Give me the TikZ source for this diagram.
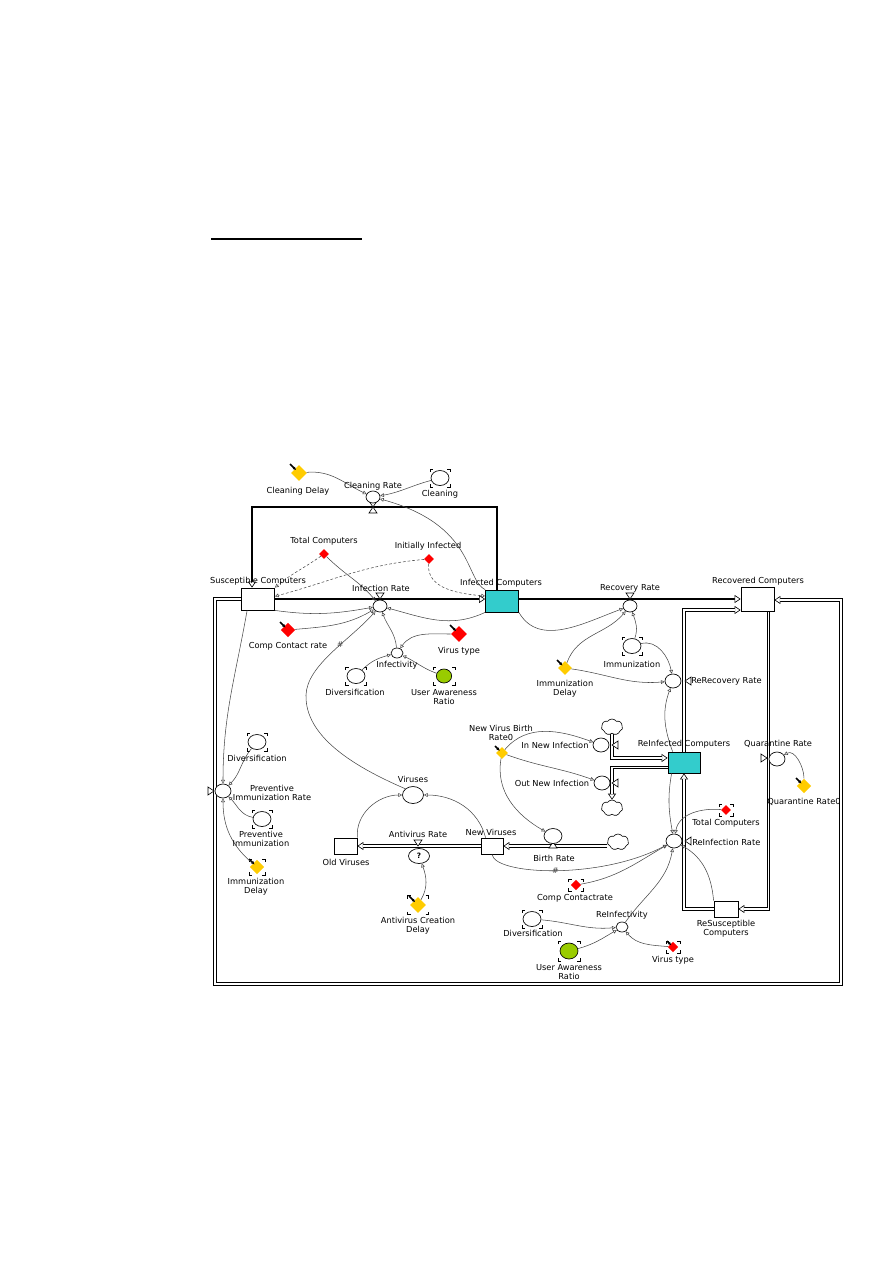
\documentclass[tikz,border=0pt]{standalone}
\usepackage{fontspec}
\setmainfont{DejaVu Sans}
\usetikzlibrary{arrows.meta,shapes.geometric,shapes.symbols,backgrounds}
\definecolor{stockteal}{RGB}{51,204,204}
\definecolor{consty}{RGB}{255,204,0}
\definecolor{constg}{RGB}{153,204,0}
\definecolor{constr}{RGB}{255,0,0}
\definecolor{conngray}{RGB}{70,70,70}
\newcommand\brk[4]{\draw[brkline,shift={(#1,#2)}] (-#3,-#4+3)--(-#3,-#4)--(-#3+3,-#4) (#3-3,-#4)--(#3,-#4)--(#3,-#4+3) (-#3,#4-3)--(-#3,#4)--(-#3+3,#4) (#3-3,#4)--(#3,#4)--(#3,#4-3);}
\newcommand\pinm[3]{\draw[pinline,shift={(#1,#2)}] (-#3-1,-#3-1) -- (-0.35*#3,-0.35*#3);}
\newcommand\vdn[2]{\draw[valve,shift={(#1,#2)}] (-4,-6)--(4,-6)--(0,0)--cycle;}
\newcommand\vup[2]{\draw[valve,shift={(#1,#2)}] (-4,6)--(4,6)--(0,0)--cycle;}
\newcommand\vlf[2]{\draw[valve,shift={(#1,#2)}] (6,-4)--(6,4)--(0,0)--cycle;}
\newcommand\vrt[2]{\draw[valve,shift={(#1,#2)}] (-6,-4)--(-6,4)--(0,0)--cycle;}
\begin{document}
\begin{tikzpicture}[x=0.75pt,y=-0.75pt,
  lbl/.style={inner sep=0pt, font=\fontsize{6.2}{6.75}\selectfont, align=center},
  stock/.style={draw=black, line width=0.6pt, fill=white, inner sep=0pt},
  aux/.style={ellipse, draw=black, line width=0.5pt, fill=white, inner sep=0pt},
  a5/.style={aux, minimum width=9pt, minimum height=7.5pt},
  a6/.style={aux, minimum width=10.5pt, minimum height=9pt},
  a7/.style={aux, minimum width=12pt, minimum height=10.5pt},
  a8/.style={aux, minimum width=13.5pt, minimum height=11.25pt},
  a10/.style={aux, minimum width=15.75pt, minimum height=12.75pt},
  cst/.style={diamond, draw=none, inner sep=0pt, aspect=1},
  cld/.style={cloud, cloud puffs=7, cloud puff arc=110, aspect=1.3, draw=black, line width=0.45pt, fill=white, inner sep=0pt, minimum width=16pt, minimum height=12pt},
  brkline/.style={draw=black, line width=0.5pt},
  pinline/.style={draw=black, line width=1.1pt, -{Latex[length=2.5pt,width=2.5pt]}},
  valve/.style={draw=black, line width=0.45pt, fill=white},
  pipe/.style={draw=black, line width=1.2pt},
  dpipe/.style={draw=black, line width=2.3pt, postaction={draw=white, line width=0.8pt, -, shorten >=4.5pt}},
  fa/.style={-{Triangle[length=4.5pt,width=6pt,fill=white,line width=0.45pt]}},
  conn/.style={draw=conngray, line width=0.4pt, -{Triangle[open,length=2.8pt,width=2.8pt,line width=0.4pt]}},
  dconn/.style={conn, dash pattern=on 2pt off 1.5pt},
  dly/.style={inner sep=0pt, font=\fontsize{6}{6}\selectfont, text=conngray}
]
\useasboundingbox (0,0) rectangle (893,1263);
% underline
\coordinate (ul1) at (211,239);
\coordinate (ul2) at (362,239);
\draw[line width=0.8pt] (ul1) -- (ul2);

% stocks
\node[stock, minimum width=24.75pt, minimum height=16.5pt] (sus) at (258,599) {};
\node[stock, fill=stockteal, minimum width=24.75pt, minimum height=16.5pt] (inf) at (502,601) {};
\node[stock, minimum width=24.75pt, minimum height=18pt] (rec) at (757.5,599) {};
\node[stock, fill=stockteal, minimum width=24pt, minimum height=15.75pt] (reinf) at (684,762.5) {};
\node[stock, minimum width=18pt, minimum height=12pt] (resus) at (726,909) {};
\node[stock, minimum width=16.5pt, minimum height=12pt] (newv) at (492,846) {};
\node[stock, minimum width=17.25pt, minimum height=12pt] (oldv) at (345.5,846) {};

% clouds
\node[cld] (cloud1) at (612,727) {};
\node[cld] (cloud2) at (612,808) {};
\node[cld] (cloud3) at (618,842) {};

% rates
\node[a6] (crate) at (373,497) {};
\node[a6] (irate) at (380,606) {};
\node[a6] (rrate) at (630,606) {};
\node[a7] (rerec) at (673,681) {};
\node[a7] (reinfr) at (674,841) {};
\node[a7] (qrate) at (777,759) {};
\node[a7] (previr) at (223,791) {};
\node[a7] (innew) at (601,745) {};
\node[a7] (outnew) at (602,783) {};
\node[a8] (brate) at (553,836) {};
\node[aux, minimum width=15.75pt, minimum height=11.25pt, font=\fontsize{5.5}{6}\selectfont\bfseries] (avq) at (419,856) {?};

% auxiliaries
\node[a10] (viruses) at (413,795) {};
\node[a8] (cleaning) at (440,478) {};
\node[a5] (infect) at (397,653) {};
\node[a5] (reinfect) at (622,927) {};
\node[a8] (div1) at (356,676) {};
\node[a8] (div2) at (257,742) {};
\node[a8] (div3) at (532,919) {};
\node[a8] (previmm) at (262,819) {};
\node[a8] (immun) at (632,646) {};
\node[aux, fill=constg, minimum width=11.5pt, minimum height=10.5pt] (uar1) at (444,676) {};
\node[aux, fill=constg, minimum width=13.5pt, minimum height=12pt] (uar2) at (569,951) {};

% constants
\node[cst, fill=consty, minimum size=12pt] (cdelay) at (299,473) {};
\node[cst, fill=constr, minimum size=7.5pt] (totc) at (324,554) {};
\node[cst, fill=constr, minimum size=7.5pt] (initinf) at (429,559) {};
\node[cst, fill=constr, minimum size=11pt] (ccr1) at (288,630) {};
\node[cst, fill=constr, minimum size=12pt] (vtype1) at (459,634) {};
\node[cst, fill=consty, minimum size=11pt] (imdel1) at (257,867) {};
\node[cst, fill=consty, minimum size=10.5pt] (imdel2) at (565,668) {};
\node[cst, fill=consty, minimum size=9pt] (nvbr) at (502,753) {};
\node[cst, fill=consty, minimum size=11pt] (qr0) at (804,786) {};
\node[cst, fill=consty, minimum size=12pt] (avdelay) at (418,905) {};
\node[cst, fill=constr, minimum size=7.5pt] (totc2) at (726,810) {};
\node[cst, fill=constr, minimum size=8pt] (ccr2) at (576,885) {};
\node[cst, fill=constr, minimum size=8pt] (vtype2) at (673,947) {};

% brackets
\brk{440}{478}{10}{9}
\brk{356}{676}{10.5}{9}
\brk{444}{676}{11}{9}
\brk{257}{742}{10}{9}
\brk{262}{819}{10}{9}
\brk{632}{646}{10}{9}
\brk{532}{919}{10}{9}
\brk{569}{951}{11}{10}
\brk{257}{867}{8}{8}
\brk{418}{905}{10.5}{9.5}
\brk{726}{810}{7}{6}
\brk{576}{885}{7.5}{6}
\brk{673}{947}{7}{6}

% pins
\pinm{299}{473}{8}
\pinm{288}{630}{7}
\pinm{459}{634}{8}
\pinm{257}{867}{7}
\pinm{565}{668}{7}
\pinm{502}{753}{6}
\pinm{804}{786}{7}
\pinm{418}{905}{8}
\pinm{673}{947}{5}

% flows
\coordinate (cl1) at (252,507);
\coordinate (f1) at (215,599);
\coordinate (f2) at (215,984);
\coordinate (f3) at (841,984);
\coordinate (f4) at (841,600);
\begin{pgfonlayer}{background}
\draw[pipe,fa] (sus.east) -- (sus.east -| inf.west);
\draw[pipe,fa] (inf.east |- sus.east) -- (sus.east -| rec.west);
\draw[pipe,fa] ([xshift=-3.75pt]inf.north) |- (cl1) -- ([xshift=-4.5pt]sus.north);
\draw[dpipe,fa] (sus.west) -- (f1) -- (f2) -- (f3) -- (f4) -- (rec.east |- f4);
\draw[dpipe,fa] (reinf.north) |- ([yshift=-8.25pt]rec.west);
\draw[dpipe,fa] ([xshift=7.9pt]rec.south) |- (resus.east);
\draw[dpipe,fa] (resus.west) -| (reinf.south);
\draw[dpipe,fa] (cloud1.south) |- ([yshift=3.4pt]reinf.west);
\draw[dpipe,fa] ([yshift=-3.4pt]reinf.west) -| (cloud2.north);
\draw[dpipe,fa] (newv.east -| cloud3.west) -- (newv.east);
\draw[dpipe,fa] (newv.west) -- (oldv.east);
% valves
\vdn{373}{507} \vup{373}{507}
\vdn{380}{599}
\vdn{630}{599}
\vlf{685}{681}
\vlf{685}{841}
\vrt{767}{758}
\vrt{214}{791}
\vlf{612}{745}
\vlf{612}{783}
\vup{553}{842}
\vdn{418}{846}
\end{pgfonlayer}

% connectors
\draw[conn] (cdelay) to[out=5,in=155] (crate);
\draw[conn] (cleaning) to[out=195,in=10] (crate);
\draw[conn] (inf.north west) .. controls (465,580) and (475,525) .. (crate);
\draw[dconn] (totc) to[out=215,in=40] (sus.north east);
\draw[conn] (totc) to[out=-45,in=130] (irate);
\draw[dconn] (initinf) to[out=185,in=15] ([yshift=2pt]sus.east);
\draw[dconn] (initinf) to[out=-95,in=175] ([yshift=3.75pt]inf.west);
\draw[conn] (sus.south east) to[out=-8,in=190] (irate);
\draw[conn] (ccr1) to[out=5,in=210] (irate);
\draw[conn] (inf.south west) to[out=205,in=-15] (irate);
\draw[conn] (viruses.north west) .. controls (350,765) and (305,735) .. (306,695) .. controls (307,665) and (350,640) .. (irate) node[dly,pos=0.6]{\#};
\draw[conn] (infect) to[out=95,in=-70] (irate);
\draw[conn] (vtype1) to[out=180,in=55] (infect);
\draw[conn] (div1) to[out=45,in=195] (infect);
\draw[conn] (uar1) to[out=160,in=-25] (infect);
\draw[conn] (inf.south east) to[out=-60,in=200] (rrate);
\draw[conn] (imdel2) to[out=70,in=230] (rrate);
\draw[conn] (immun) to[out=70,in=-70] (rrate);
\draw[conn] (immun) to[out=15,in=100] (rerec);
\draw[conn] (imdel2) to[out=-8,in=185] (rerec);
\draw[conn] ([xshift=3.75pt]reinf.north west) to[out=110,in=-110] (rerec);
\draw[conn] (qr0) to[out=90,in=30] (qrate);
\draw[conn] (nvbr) to[out=50,in=160] (innew);
\draw[conn] (nvbr) to[out=-20,in=160] (outnew);
\draw[conn] (nvbr) to[out=-100,in=150] (brate);
\draw[conn] (oldv.north east) to[out=95,in=180] (viruses);
\draw[conn] ([xshift=3.75pt]newv.north west) to[out=105,in=0] (viruses);
\draw[conn] (avdelay) to[out=60,in=-70] (avq);
\draw[conn] (newv.south) .. controls (495,875) and (600,880) .. (reinfr) node[dly,pos=0.5]{\#};
\draw[conn] (ccr2) to[out=10,in=210] (reinfr);
\draw[conn] ([xshift=3pt]reinf.south west) to[out=-100,in=100] (reinfr);
\draw[conn] (totc2) to[out=175,in=80] (reinfr);
\draw[conn] (resus.north west) to[out=95,in=-30] (reinfr);
\draw[conn] (reinfect) to[out=55,in=-100] (reinfr);
\draw[conn] (div3) to[out=-5,in=185] (reinfect);
\draw[conn] (uar2) to[out=15,in=210] (reinfect);
\draw[conn] (vtype2) to[out=175,in=-50] (reinfect);
\draw[conn] ([xshift=4.5pt]sus.south west) to[out=-100,in=90] (previr);
\draw[conn] (div2) to[out=-130,in=45] (previr);
\draw[conn] (previmm) to[out=170,in=-45] (previr);
\draw[conn] (imdel1) to[out=140,in=-90] (previr);

% labels
\node[lbl] (l-cdelay) at (298,491) {Cleaning Delay};
\node[lbl] (l-crate) at (373,486) {Cleaning Rate};
\node[lbl] (l-cleaning) at (440,494) {Cleaning};
\node[lbl] (l-totc) at (324,541) {Total Computers};
\node[lbl] (l-initinf) at (428,546) {Initially Infected};
\node[lbl] (l-sus) at (258,581) {Susceptible Computers};
\node[lbl] (l-irate) at (381,588) {Infection Rate};
\node[lbl] (l-inf) at (501,583) {Infected Computers};
\node[lbl] (l-rrate) at (630,588) {Recovery Rate};
\node[lbl] (l-rec) at (758,581) {Recovered Computers};
\node[lbl] (l-ccr1) at (288,646) {Comp Contact rate};
\node[lbl] (l-vtype1) at (459,651) {Virus type};
\node[lbl] (l-infect) at (397,665) {Infectivity};
\node[lbl] (l-div1) at (355,692) {Diversification};
\node[lbl] (l-uar1) at (444,697) {User Awareness\\Ratio};
\node[lbl] (l-immun) at (632,664) {Immunization};
\node[lbl] (l-imdel2) at (565,689) {Immunization\\Delay};
\node[lbl,anchor=west] (l-rerec) at (691,681) {ReRecovery Rate};
\node[lbl] (l-div2) at (257,758) {Diversification};
\node[lbl] (l-previr) at (272,793) {Preventive\\Immunization Rate};
\node[lbl] (l-nvbr) at (501,733) {New Virus Birth\\Rate0};
\node[lbl] (l-innew) at (555,745) {In New Infection};
\node[lbl] (l-reinf) at (684,744) {ReInfected Computers};
\node[lbl] (l-qrate) at (778,744) {Quarantine Rate};
\node[lbl] (l-outnew) at (552,783) {Out New Infection};
\node[lbl] (l-qr0) at (804,802) {Quarantine Rate0};
\node[lbl] (l-viruses) at (413,779) {Viruses};
\node[lbl] (l-previmm) at (261,839) {Preventive\\Immunization};
\node[lbl] (l-totc2) at (726,823) {Total Computers};
\node[lbl] (l-avrate) at (418,834) {Antivirus Rate};
\node[lbl] (l-newv) at (491,832) {New Viruses};
\node[lbl,anchor=west] (l-reinfr) at (692,842) {ReInfection Rate};
\node[lbl] (l-brate) at (554,858) {Birth Rate};
\node[lbl] (l-oldv) at (346,862) {Old Viruses};
\node[lbl] (l-imdel1) at (256,887) {Immunization\\Delay};
\node[lbl] (l-ccr2) at (575,898) {Comp Contactrate};
\node[lbl] (l-reinfect) at (622,915) {ReInfectivity};
\node[lbl] (l-avdelay) at (418,926) {Antivirus Creation\\Delay};
\node[lbl] (l-resus) at (726,929) {ReSusceptible\\Computers};
\node[lbl] (l-div3) at (533,933) {Diversification};
\node[lbl] (l-vtype2) at (673,960) {Virus type};
\node[lbl] (l-uar2) at (569,972) {User Awareness\\Ratio};
\end{tikzpicture}
\end{document}
